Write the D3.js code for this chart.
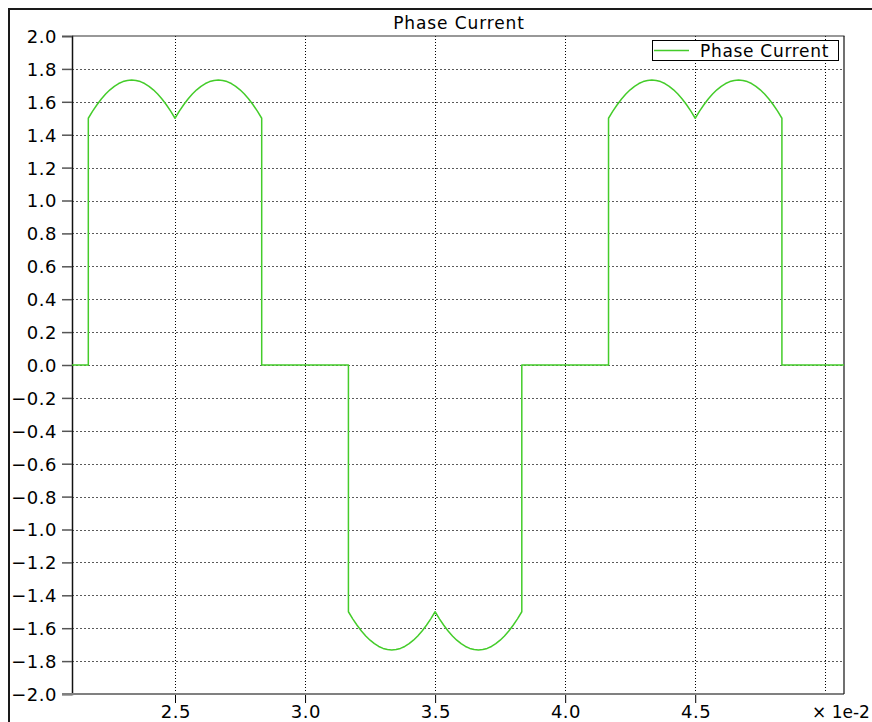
<!DOCTYPE html>
<html>
<head>
<meta charset="utf-8">
<script src="https://cdn.jsdelivr.net/npm/d3@7"></script>
<style>
  html, body { margin: 0; padding: 0; background: #fff; }
  svg { display: block; font-family: "DejaVu Sans", Verdana, sans-serif; }
</style>
</head>
<body>
<svg id="chart" width="872" height="722"></svg>
<script>
// Time in units of 1e-2 s, phase current in A
const timeAxis = [
  2.104, 2.1667,
  2.1667, 2.1833, 2.2000, 2.2167, 2.2333, 2.2500, 2.2667, 2.2833, 2.3000, 2.3167,
  2.3333, 2.3500, 2.3667, 2.3833, 2.4000, 2.4167, 2.4333, 2.4500, 2.4667, 2.4833,
  2.5000, 2.5167, 2.5333, 2.5500, 2.5667, 2.5833, 2.6000, 2.6167, 2.6333, 2.6500,
  2.6667, 2.6833, 2.7000, 2.7167, 2.7333, 2.7500, 2.7667, 2.7833, 2.8000, 2.8167,
  2.8333, 2.8333,
  3.1667,
  3.1667, 3.1833, 3.2000, 3.2167, 3.2333, 3.2500, 3.2667, 3.2833, 3.3000, 3.3167,
  3.3333, 3.3500, 3.3667, 3.3833, 3.4000, 3.4167, 3.4333, 3.4500, 3.4667, 3.4833,
  3.5000, 3.5167, 3.5333, 3.5500, 3.5667, 3.5833, 3.6000, 3.6167, 3.6333, 3.6500,
  3.6667, 3.6833, 3.7000, 3.7167, 3.7333, 3.7500, 3.7667, 3.7833, 3.8000, 3.8167,
  3.8333, 3.8333,
  4.1667,
  4.1667, 4.1833, 4.2000, 4.2167, 4.2333, 4.2500, 4.2667, 4.2833, 4.3000, 4.3167,
  4.3333, 4.3500, 4.3667, 4.3833, 4.4000, 4.4167, 4.4333, 4.4500, 4.4667, 4.4833,
  4.5000, 4.5167, 4.5333, 4.5500, 4.5667, 4.5833, 4.6000, 4.6167, 4.6333, 4.6500,
  4.6667, 4.6833, 4.7000, 4.7167, 4.7333, 4.7500, 4.7667, 4.7833, 4.8000, 4.8167,
  4.8333, 4.8333,
  5.072
];

const phaseCurrent = [
  0.000, 0.000,
  1.500, 1.543, 1.582, 1.617, 1.647, 1.673, 1.694, 1.711, 1.723, 1.730,
  1.732, 1.730, 1.723, 1.711, 1.694, 1.673, 1.647, 1.617, 1.582, 1.543,
  1.500, 1.543, 1.582, 1.617, 1.647, 1.673, 1.694, 1.711, 1.723, 1.730,
  1.732, 1.730, 1.723, 1.711, 1.694, 1.673, 1.647, 1.617, 1.582, 1.543,
  1.500, 0.000,
  0.000,
  -1.500, -1.543, -1.582, -1.617, -1.647, -1.673, -1.694, -1.711, -1.723, -1.730,
  -1.732, -1.730, -1.723, -1.711, -1.694, -1.673, -1.647, -1.617, -1.582, -1.543,
  -1.500, -1.543, -1.582, -1.617, -1.647, -1.673, -1.694, -1.711, -1.723, -1.730,
  -1.732, -1.730, -1.723, -1.711, -1.694, -1.673, -1.647, -1.617, -1.582, -1.543,
  -1.500, 0.000,
  0.000,
  1.500, 1.543, 1.582, 1.617, 1.647, 1.673, 1.694, 1.711, 1.723, 1.730,
  1.732, 1.730, 1.723, 1.711, 1.694, 1.673, 1.647, 1.617, 1.582, 1.543,
  1.500, 1.543, 1.582, 1.617, 1.647, 1.673, 1.694, 1.711, 1.723, 1.730,
  1.732, 1.730, 1.723, 1.711, 1.694, 1.673, 1.647, 1.617, 1.582, 1.543,
  1.500, 0.000,
  0.000
];

const xTickValues = [2.5, 3.0, 3.5, 4.0, 4.5];
const xTickLabels = ["2.5", "3.0", "3.5", "4.0", "4.5"];
const xGridValues = [2.5, 3.0, 3.5, 4.0, 4.5, 5.0];
const yTickValues = [-2.0, -1.8, -1.6, -1.4, -1.2, -1.0, -0.8, -0.6, -0.4, -0.2,
                     0.0, 0.2, 0.4, 0.6, 0.8, 1.0, 1.2, 1.4, 1.6, 1.8, 2.0];

const chartTitle = "Phase Current";
const seriesName = "Phase Current";
const xScaleNote = "\u00d7 1e-2";

const svg = d3.select("#chart");
const plot = { left: 72, right: 844, top: 36, bottom: 694 };

const x = d3.scaleLinear().domain([2.104, 5.072]).range([plot.left, plot.right]);
const y = d3.scaleLinear().domain([-2, 2]).range([plot.bottom, plot.top]);

// Outer frame
svg.append("rect")
  .attr("x", 9).attr("y", 9).attr("width", 900).attr("height", 900)
  .attr("fill", "none").attr("stroke", "#1a1a1a").attr("stroke-width", 2);

// Title
svg.append("text")
  .attr("x", 459).attr("y", 28.5)
  .attr("text-anchor", "middle")
  .attr("font-size", 17).attr("letter-spacing", 0.9)
  .attr("fill", "#000")
  .text(chartTitle);

// Grid lines
const grid = svg.append("g");
grid.selectAll("line.hg")
  .data(yTickValues.filter(v => Math.abs(v) < 1.99))
  .join("line")
  .attr("x1", plot.left).attr("x2", plot.right)
  .attr("y1", d => Math.round(y(d)) + 0.5).attr("y2", d => Math.round(y(d)) + 0.5)
  .attr("stroke", "#5a5a5a").attr("stroke-width", 1)
  .attr("stroke-dasharray", "2,2");
grid.selectAll("line.vg")
  .data(xGridValues)
  .join("line")
  .attr("x1", d => Math.round(x(d)) + 0.5).attr("x2", d => Math.round(x(d)) + 0.5)
  .attr("y1", plot.top).attr("y2", plot.bottom)
  .attr("stroke", "#000").attr("stroke-width", 1)
  .attr("stroke-dasharray", "1,2");

// Axes
const yAxis = d3.axisLeft(y)
  .tickValues(yTickValues)
  .tickFormat(d3.format(".1f"))
  .tickSize(10).tickPadding(5);
const gy = svg.append("g")
  .attr("transform", `translate(${plot.left},0)`)
  .call(yAxis);
gy.select(".domain").attr("stroke", "#111").attr("stroke-width", 1.5);
gy.selectAll(".tick line").attr("stroke", "#555").attr("stroke-width", 1.5);
gy.selectAll(".tick text")
  .attr("font-size", 18).attr("letter-spacing", 0.5)
  .attr("font-family", "DejaVu Sans, Verdana, sans-serif")
  .attr("fill", "#000")
  .attr("dy", "0.36em");

const xAxis = d3.axisBottom(x)
  .tickValues(xTickValues)
  .tickFormat((d, i) => xTickLabels[i])
  .tickSize(9).tickPadding(4);
const gx = svg.append("g")
  .attr("transform", `translate(0,${plot.bottom})`)
  .call(xAxis);
gx.select(".domain").remove();
gx.selectAll(".tick line").attr("stroke", "#000").attr("stroke-width", 1);
gx.selectAll(".tick text")
  .attr("font-size", 18).attr("letter-spacing", 0.5)
  .attr("font-family", "DejaVu Sans, Verdana, sans-serif")
  .attr("fill", "#000")
  .attr("y", 23.5).attr("dy", 0)
  .attr("dx", "0.3");

// Plot frame: grey bottom edge, dark top and right edges
svg.append("line")
  .attr("x1", 62).attr("x2", plot.right)
  .attr("y1", plot.bottom).attr("y2", plot.bottom)
  .attr("stroke", "#808080").attr("stroke-width", 2);
svg.append("line")
  .attr("x1", plot.left).attr("x2", plot.right + 0.5)
  .attr("y1", plot.top).attr("y2", plot.top)
  .attr("stroke", "#333").attr("stroke-width", 1.2);
svg.append("line")
  .attr("x1", plot.right).attr("x2", plot.right)
  .attr("y1", plot.top).attr("y2", plot.bottom)
  .attr("stroke", "#111").attr("stroke-width", 1.2);

// Scale note under the x axis
svg.append("text")
  .attr("x", 812).attr("y", 718)
  .attr("font-size", 17)
  .attr("fill", "#000")
  .text(xScaleNote);

// Current trace
const line = d3.line()
  .x((d, i) => x(timeAxis[i]))
  .y((d, i) => y(phaseCurrent[i]));
svg.append("path")
  .datum(phaseCurrent)
  .attr("d", line)
  .attr("fill", "none")
  .attr("stroke", "#44cc2a")
  .attr("stroke-width", 1.5)
  .attr("stroke-linejoin", "round");

// Legend
const lg = svg.append("g");
lg.append("rect")
  .attr("x", 652.5).attr("y", 40.5).attr("width", 186).attr("height", 20)
  .attr("fill", "#fff").attr("stroke", "#000").attr("stroke-width", 1);
lg.append("line")
  .attr("x1", 654).attr("x2", 689).attr("y1", 50.5).attr("y2", 50.5)
  .attr("stroke", "#44cc2a").attr("stroke-width", 1.4);
lg.append("text")
  .attr("x", 700).attr("y", 56.5)
  .attr("font-size", 17).attr("letter-spacing", 0.7)
  .attr("fill", "#000")
  .text(seriesName);
</script>
</body>
</html>
